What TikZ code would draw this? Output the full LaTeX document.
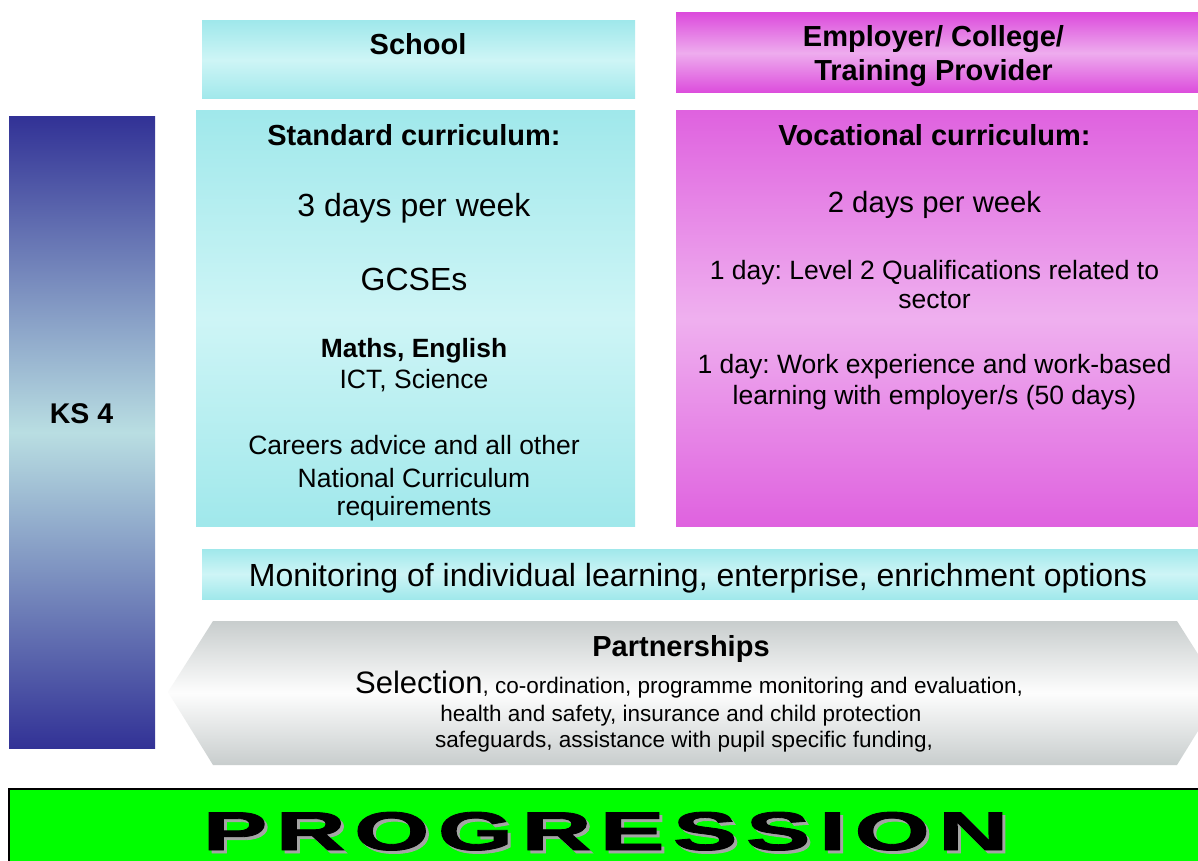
\documentclass[tikz,border=0pt]{standalone}
\usepackage{fontspec}
\usepackage{graphicx}
\setmainfont{Liberation Sans}
\newfontfamily\progfont{Liberation Sans}[FakeBold=1.5]
\definecolor{cyanE}{RGB}{160,232,235}
\definecolor{cyanM}{RGB}{206,245,246}
\definecolor{magE}{RGB}{220,76,220}
\definecolor{magM}{RGB}{238,172,238}
\definecolor{vocE}{RGB}{223,98,223}
\definecolor{vocM}{RGB}{239,176,239}
\definecolor{ksE}{RGB}{50,50,150}
\definecolor{ksM}{RGB}{185,222,226}
\definecolor{grayE}{RGB}{200,205,205}
\definecolor{grayM}{RGB}{253,253,253}
\definecolor{progGreen}{RGB}{0,255,0}
\definecolor{shadowGray}{RGB}{165,165,165}
\newcommand{\progword}{\progfont\bfseries P\kern.09em R\kern.09em O\kern.09em G\kern.09em R\kern.09em E\kern.09em S\kern.09em S\kern.09em I\kern.09em O\kern.09em N}
\tikzset{
  box/.style={inner sep=0pt, outer sep=0pt, anchor=north west, draw=none},
  cyanbox/.style={box, top color=cyanE, bottom color=cyanE, middle color=cyanM},
  magbox/.style={box, top color=magE, bottom color=magE, middle color=magM},
  vocbox/.style={box, top color=vocE, bottom color=vocE, middle color=vocM},
  ksbox/.style={box, top color=ksE, bottom color=ksE, middle color=ksM},
  txt/.style={inner sep=0pt, outer sep=0pt, anchor=base},
  head/.style={txt, font=\fontsize{29}{34}\selectfont\bfseries},
  big/.style={txt, font=\fontsize{32}{38}\selectfont},
  mid/.style={txt, font=\fontsize{26.5}{31}\selectfont},
  small/.style={txt, font=\fontsize{22.5}{27}\selectfont},
}
\frenchspacing
\begin{document}
\frenchspacing
\begin{tikzpicture}[x=1pt, y=-1pt]
\clip (0,0) rectangle (1198,861);
\fill[white] (0,0) rectangle (1198,861);

% KS4 bar
\node[ksbox, minimum width=146pt, minimum height=631pt] (ks) at (9,117) {};
\node[txt, font=\fontsize{28.5}{34}\selectfont\bfseries] (kst) at (81.5,423) {KS 4};

% headers
\node[cyanbox, minimum width=433pt, minimum height=78pt] (school) at (202,21) {};
\node[head] (schoolt) at (418,55) {School};
\node[magbox, minimum width=524pt, minimum height=80pt] (employer) at (676,13) {};
\node[head] (employert1) at (933.5,47) {Employer/ College/};
\node[head] (employert2) at (933.5,81) {Training Provider};

% standard curriculum
\node[cyanbox, minimum width=439pt, minimum height=415pt] (standard) at (196,111) {};
\node[head] (st1) at (414,146) {Standard curriculum:};
\node[big] (st2) at (414,216) {3 days per week};
\node[big] (st3) at (414,290) {GCSEs};
\node[txt, font=\fontsize{26.4}{31}\selectfont\bfseries] (st4) at (414,357) {Maths, English};
\node[mid] (st5) at (414,388) {ICT, Science};
\node[mid] (st6) at (414,454) {Careers advice and all other};
\node[mid] (st7) at (414,487) {National Curriculum};
\node[mid] (st8) at (414,515) {requirements};

% vocational curriculum
\node[vocbox, minimum width=524pt, minimum height=415pt] (voc) at (676,111) {};
\node[head] (vt1) at (934.5,146) {Vocational curriculum:};
\node[txt, font=\fontsize{29.3}{35}\selectfont] (vt2) at (934.5,212) {2 days per week};
\node[mid] (vt3) at (934.5,279) {1 day: Level 2 Qualifications related to};
\node[mid] (vt4) at (934.5,308) {sector};
\node[mid] (vt5) at (934.5,373) {1 day: Work experience and work-based};
\node[mid] (vt6) at (934.5,404) {learning with employer/s (50 days)};

% monitoring bar
\node[cyanbox, minimum width=1000pt, minimum height=50pt] (mon) at (202,549) {};
\node[big] (mont) at (698,586) {Monitoring of individual learning, enterprise, enrichment options};

% partnerships
\path[top color=grayE, bottom color=grayE, middle color=grayM]
  (168,692) -- (213,621) -- (1177,621) -- (1222,692) -- (1177,765) -- (213,765) -- cycle;
\node[head] (pt1) at (681,656) {Partnerships};
\node[txt] (pt2) at (689,693) {\fontsize{31}{36}\selectfont Selection\fontsize{22.5}{27}\selectfont, co-ordination, programme monitoring and evaluation,};
\node[small] (pt3) at (681,721) {health and safety, insurance and child protection};
\node[small] (pt4) at (684,747) {safeguards, assistance with pupil specific funding,};

% progression
\path[fill=progGreen, draw=black, line width=2pt] (9,789) rectangle (1210,875);
\node[txt, text=shadowGray] (progs) at (608.5,853) {\resizebox{805pt}{38pt}{\progword}};
\node[txt, text=black] (prog) at (605.5,850) {\resizebox{805pt}{38pt}{\progword}};
\end{tikzpicture}
\end{document}
